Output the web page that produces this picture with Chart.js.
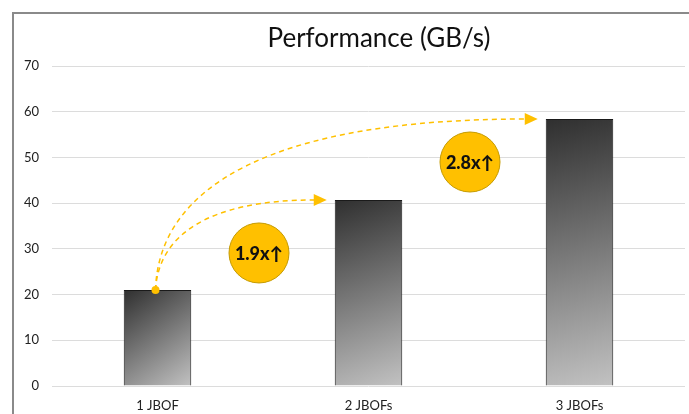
<!DOCTYPE html>
<html>
<head>
<meta charset="utf-8">
<script src="https://cdn.jsdelivr.net/npm/chart.js@4.4.1/dist/chart.umd.min.js"></script>
<style>
  html, body { margin: 0; padding: 0; background: #fff; }
  #wrap { position: relative; width: 689px; height: 414px; }
</style>
</head>
<body>
<div id="wrap"><canvas id="perfChart" width="689" height="414"></canvas></div>
<script>
const categories = ['1 JBOF', '2 JBOFs', '3 JBOFs'];
const performance = [21.0, 40.7, 58.4];
const yTicks = [0, 10, 20, 30, 40, 50, 60, 70];
const speedups = ['1.9x\u2191', '2.8x\u2191'];
const badgeValues = [29.1, 49.0];

const FONT = "Lato, 'Open Sans', sans-serif";
const GOLD = '#FFC000';
const BAR_PCT = 0.32;

function barGradient(c) {
    const chart = c.chart;
    const xs = chart.scales.x, ys = chart.scales.y;
    if (!xs || !ys || !chart.chartArea) return '#777';
    const i = c.dataIndex;
    const w = (chart.chartArea.width / categories.length) * BAR_PCT;
    const cx = xs.getPixelForValue(i);
    const top = ys.getPixelForValue(performance[i]);
    const base = ys.getPixelForValue(0);
    if (!isFinite(cx) || !isFinite(top)) return '#777';
    const g = chart.ctx.createLinearGradient(cx - w / 2, top, cx + w / 2, base);
    g.addColorStop(0, '#2f2f2f');
    g.addColorStop(1, '#c2c2c2');
    return g;
}

// frame, title, arrows and badges
const decor = {
    id: 'decor',
    beforeDraw(chart) {
        const ctx = chart.ctx;
        ctx.save();
        ctx.fillStyle = '#8a8a8a';
        ctx.fillRect(12, 12, 2, 414);
        ctx.fillRect(12, 12, 689, 2);
        ctx.fillStyle = '#111';
        ctx.font = '400 26px ' + FONT;
        ctx.textAlign = 'center';
        ctx.textBaseline = 'middle';
        ctx.fillText('Performance (GB/s)', 379, 39);
        ctx.restore();
    },
    afterDatasetsDraw(chart) {
        const ctx = chart.ctx;
        const xs = chart.scales.x, ys = chart.scales.y;
        const w = (chart.chartArea.width / categories.length) * BAR_PCT;
        const sx = xs.getPixelForValue(0) - 2;
        const sy = ys.getPixelForValue(performance[0]);

        ctx.save();
        ctx.strokeStyle = GOLD;
        ctx.fillStyle = GOLD;
        ctx.lineWidth = 1.5;
        for (let k = 1; k < categories.length; k++) {
            const ex = xs.getPixelForValue(k) - w / 2 - 8;
            const ey = ys.getPixelForValue(performance[k]);
            ctx.setLineDash([5, 4]);
            ctx.beginPath();
            ctx.moveTo(sx, sy);
            ctx.bezierCurveTo(sx + 3, ey + (sy - ey) * 0.4, sx + (ex - sx) * 0.3, ey, ex - 12, ey);
            ctx.stroke();
            ctx.setLineDash([]);
            ctx.beginPath();
            ctx.moveTo(ex, ey);
            ctx.lineTo(ex - 13, ey - 6);
            ctx.lineTo(ex - 13, ey + 6);
            ctx.closePath();
            ctx.fill();
        }
        ctx.beginPath();
        ctx.arc(sx, sy, 4, 0, Math.PI * 2);
        ctx.fill();

        speedups.forEach((txt, k) => {
            const bx = (xs.getPixelForValue(k) + xs.getPixelForValue(k + 1)) / 2 - 4;
            const by = ys.getPixelForValue(badgeValues[k]);
            ctx.beginPath();
            ctx.arc(bx, by, 30, 0, Math.PI * 2);
            ctx.fillStyle = GOLD;
            ctx.fill();
            ctx.lineWidth = 1;
            ctx.strokeStyle = '#C49A00';
            ctx.stroke();
            ctx.fillStyle = '#111';
            ctx.font = '900 18px ' + FONT;
            ctx.textAlign = 'center';
            ctx.textBaseline = 'middle';
            ctx.fillText(txt, bx, by + 1);
        });
        ctx.restore();
    }
};

const ctx = document.getElementById('perfChart').getContext('2d');
const perfChart = new Chart(ctx, {
    type: 'bar',
    data: {
        labels: categories,
        datasets: [{
            label: 'Performance (GB/s)',
            data: performance,
            backgroundColor: barGradient,
            borderColor: '#1a1a1a',
            borderWidth: 1,
            categoryPercentage: 1,
            barPercentage: BAR_PCT
        }]
    },
    options: {
        responsive: false,
        animation: false,
        layout: { padding: { left: 0, top: 66, right: 4, bottom: 0 } },
        plugins: {
            legend: { display: false },
            title: { display: false },
            tooltip: { enabled: false }
        },
        scales: {
            x: {
                grid: { display: false },
                border: { display: false },
                ticks: { color: '#222', font: { family: FONT, size: 13 }, padding: 4 },
                afterFit: s => { s.height = 28; }
            },
            y: {
                min: 0,
                max: 70,
                afterBuildTicks: s => { s.ticks = yTicks.map(v => ({ value: v })); },
                grid: { color: '#dcdcdc', lineWidth: 1, drawTicks: false },
                border: { display: false },
                ticks: { color: '#222', font: { family: FONT, size: 13 }, padding: 13 },
                afterFit: s => { s.width = 52; }
            }
        }
    },
    plugins: [decor]
});
</script>
</body>
</html>
